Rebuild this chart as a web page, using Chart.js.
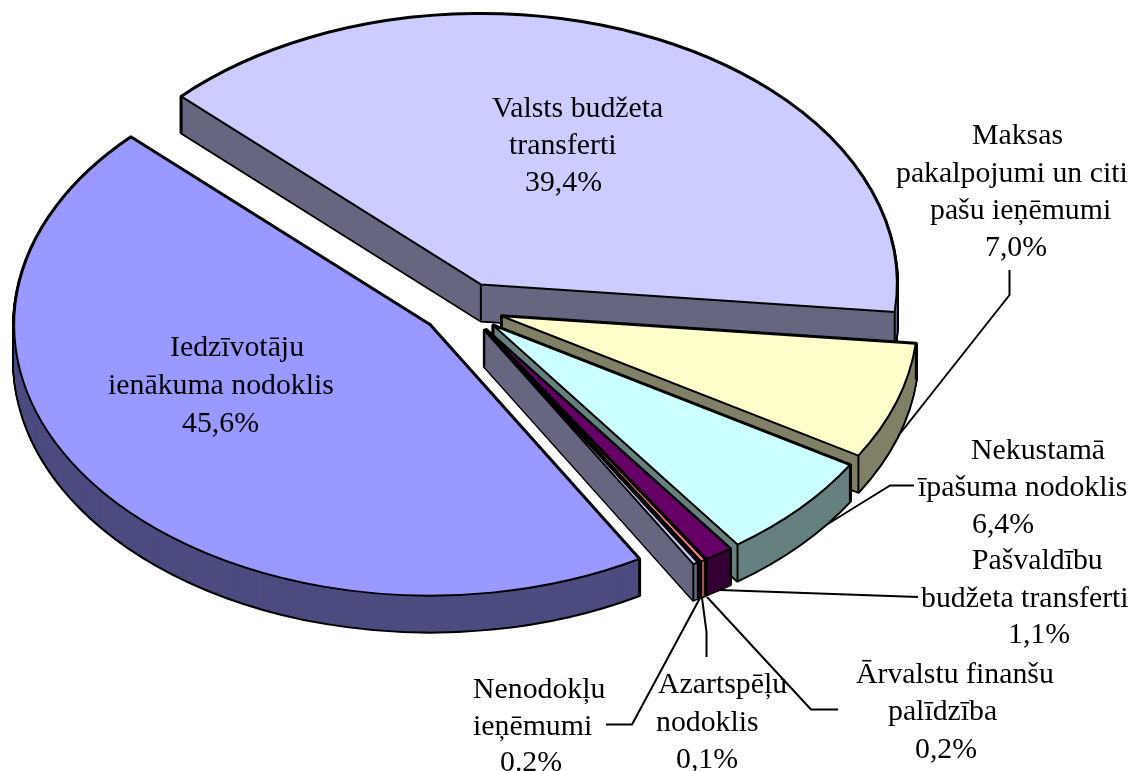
<!DOCTYPE html>
<html><head><meta charset="utf-8">
<style>html,body{margin:0;padding:0;background:#fff;overflow:hidden}#wrap{width:1131px;height:771px}</style>
<script src="https://cdn.jsdelivr.net/npm/chart.js@4"></script>
</head><body><div id="wrap"><canvas id="c" width="1131" height="771"></canvas></div>
<script>
const categories = ["Valsts budžeta transferti","Maksas pakalpojumi un citi pašu ieņēmumi","Nekustamā īpašuma nodoklis","Pašvaldību budžeta transferti","Ārvalstu finanšu palīdzība","Azartspēļu nodoklis","Nenodokļu ieņēmumi","Iedzīvotāju ienākuma nodoklis"];
const shares = [39.4,7.0,6.4,1.1,0.2,0.1,0.2,45.6];
const topColors = ["#CCCCFF","#FFFFCC","#CCFFFF","#660066","#FF8080","#0066CC","#CCCCFF","#9999FF"];
const wallColors = ["#666680","#808066","#668080","#330033","#A05050","#003366","#666680","#4C4C80"];
const explodeBy = [40,40,40,40,40,40,40,43];

// layout of the picture
const CX=464, CY=308, TILT=0.65, DEPTH=36, RADIUS=416, LW=2;
const FONT='29.8px "Liberation Serif"';
const labelLines=[
 ["Valsts budžeta",492,117],["transferti",509,154],["39,4%",525,191],
 ["Maksas",972,144],["pakalpojumi un citi",896,182],["pašu ieņēmumi",930,219],["7,0%",985,256],
 ["Iedzīvotāju",170,356],["ienākuma nodoklis",108,394],["45,6%",182,432],
 ["Nekustamā",971,459],["īpašuma nodoklis",918,496],["6,4%",972,533],
 ["Pašvaldību",972,569],["budžeta transferti",921,607],["1,1%",1008,643],
 ["Ārvalstu finanšu",856,683],["palīdzība",888,720],["0,2%",915,758],
 ["Azartspēļu",658,693],["nodoklis",656,731],["0,1%",676,768],
 ["Nenodokļu",473,698],["ieņēmumi",473,735],["0.2%",500,771]
];
const leaders=[
 [[1009.5,270],[1009.5,295],[880,459]],
 [[914,485.5],[890,485.5],[810,535]],
 [[918,597],[720,590]],
 [[838,709.5],[811,709.5],[707,597]],
 [[706.5,657],[706.5,632],[702,598]],
 [[606,724.5],[632,724.5],[700,598]]
];

function placement(arc,i){
  const mid=(arc.startAngle+arc.endAngle)/2;
  return {x:CX+Math.cos(mid)*explodeBy[i], y:CY+Math.sin(mid)*explodeBy[i]*TILT};
}
function topPath(arc,p,dy){
  const path=new Path2D();
  const y=p.y+(dy||0);
  path.moveTo(p.x,y);
  path.ellipse(p.x,y,RADIUS,RADIUS*TILT,0,arc.startAngle,arc.endAngle);
  path.closePath();
  return path;
}
function drawArcLayer(ctx,arc,p,dy,color){
  const saved=arc.options;
  arc.options=Object.assign({},saved,{backgroundColor:color,borderWidth:0});
  ctx.save();
  ctx.translate(p.x,p.y+dy);
  ctx.scale(1,TILT);
  ctx.translate(-arc.x,-arc.y);
  arc.draw(ctx);
  ctx.restore();
  arc.options=saved;
}
const pie3d={
  id:'pie3d',
  beforeDatasetsDraw(chart){
    const ctx=chart.ctx;
    ctx.save();
    ctx.lineJoin='round';ctx.lineCap='butt';ctx.strokeStyle='#000';
    ctx.lineWidth=LW;
    leaders.forEach(l=>{ctx.beginPath();l.forEach((q,i)=>i?ctx.lineTo(q[0],q[1]):ctx.moveTo(q[0],q[1]));ctx.stroke();});
    chart.getDatasetMeta(0).data.forEach((arc,i)=>{
      const p=placement(arc,i);
      const top=topPath(arc,p);
      const rim=[arc.startAngle,arc.endAngle].map(a=>[p.x+Math.cos(a)*RADIUS,p.y+Math.sin(a)*RADIUS*TILT]);
      ctx.lineWidth=shares[i]>5?4:3;
      for(let k=DEPTH;k>=0;k-=1){ctx.stroke(topPath(arc,p,k));}
      for(let k=DEPTH;k>0;k-=1){drawArcLayer(ctx,arc,p,k,wallColors[i]);}
      // the two cut faces, solid even where the slice is very thin
      ctx.fillStyle=wallColors[i];
      rim.forEach(q=>{
        ctx.beginPath();ctx.moveTo(p.x,p.y);ctx.lineTo(q[0],q[1]);
        ctx.lineTo(q[0],q[1]+DEPTH);ctx.lineTo(p.x,p.y+DEPTH);ctx.closePath();ctx.fill();
      });
      drawArcLayer(ctx,arc,p,0,topColors[i]);
      ctx.lineWidth=LW;
      [[p.x,p.y],rim[0],rim[1]].forEach(q=>{
        if(!ctx.isPointInPath(top,q[0],q[1]+DEPTH/2)){
          ctx.beginPath();ctx.moveTo(q[0],q[1]);ctx.lineTo(q[0],q[1]+DEPTH);ctx.stroke();
        }
      });
      ctx.stroke(top);
    });
    ctx.restore();
    return false;
  },
  afterDraw(chart){
    const ctx=chart.ctx;
    ctx.save();
    ctx.font=FONT;ctx.fillStyle='#000';ctx.textAlign='left';ctx.textBaseline='alphabetic';
    labelLines.forEach(t=>ctx.fillText(t[0],t[1],t[2]));
    ctx.restore();
  }
};
new Chart(document.getElementById('c'),{
  type:'pie',
  data:{labels:categories,datasets:[{data:shares,backgroundColor:topColors,borderWidth:0,clip:false}]},
  options:{responsive:false,animation:false,rotation:-46,radius:RADIUS,
    layout:{padding:0},
    plugins:{legend:{display:false},tooltip:{enabled:false}}},
  plugins:[pie3d]
});
</script></body></html>
